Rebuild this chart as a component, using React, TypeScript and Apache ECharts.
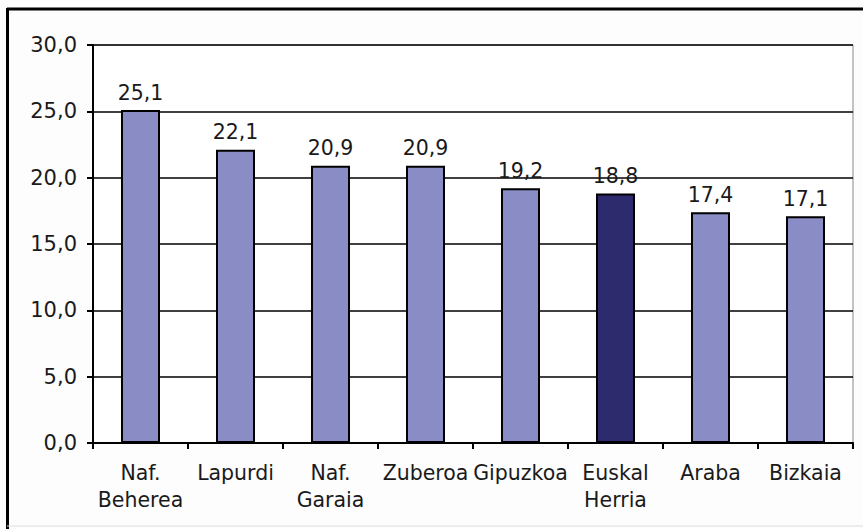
import React, { useEffect, useRef } from "react";
import * as echarts from "echarts";

const categories = ["Naf.\nBeherea", "Lapurdi", "Naf.\nGaraia", "Zuberoa", "Gipuzkoa", "Euskal\nHerria", "Araba", "Bizkaia"];
const values = [25.1, 22.1, 20.9, 20.9, 19.2, 18.8, 17.4, 17.1];
const highlighted = ["Euskal\nHerria"];
const yMin = 0;
const yMax = 30;
const yStep = 5;

const LIGHT = "#8a8dc5";
const DARK = "#2e2a6e";
const fmt = (v: number) => v.toFixed(1).replace(".", ",");

export default function App() {
  const ref = useRef<HTMLDivElement>(null);
  useEffect(() => {
    document.body.style.margin = "0";
    const chart = echarts.init(ref.current!, null, { renderer: "svg" });
    chart.setOption({
      animation: false,
      backgroundColor: "#fdfdfd",
      textStyle: { fontFamily: "DejaVu Sans" },
      grid: { left: 93, right: 10, top: 45, bottom: 86, show: true, backgroundColor: "#ffffff", borderColor: "#888888", borderWidth: 1 },
      graphic: [
        { type: "line", shape: { x1: 7, y1: 9, x2: 863, y2: 9 }, style: { stroke: "#000", lineWidth: 3 }, z: 10 },
        { type: "line", shape: { x1: 7.5, y1: 8, x2: 7.5, y2: 529 }, style: { stroke: "#000", lineWidth: 3 }, z: 10 },
        { type: "line", shape: { x1: 7, y1: 526, x2: 863, y2: 526 }, style: { stroke: "#dddddd", lineWidth: 1 }, z: 10 },
      ],
      xAxis: {
        type: "category",
        data: categories,
        axisLine: { show: true, lineStyle: { color: "#000", width: 2 } },
        axisTick: { show: true, length: 6, lineStyle: { color: "#000", width: 2 } },
        axisLabel: { color: "#1a1a1a", fontSize: 20.5, lineHeight: 27, margin: 16, interval: 0, fontFamily: "DejaVu Sans" },
      },
      yAxis: {
        type: "value",
        min: yMin,
        max: yMax,
        interval: yStep,
        axisLine: { show: true, lineStyle: { color: "#000", width: 2 } },
        axisTick: { show: true, length: 6, lineStyle: { color: "#000", width: 2 } },
        axisLabel: { color: "#1a1a1a", fontSize: 21, margin: 16, formatter: (v: number) => fmt(v), fontFamily: "DejaVu Sans" },
        splitLine: { show: true, lineStyle: { color: "#000", width: 1.5 } },
      },
      series: [
        {
          type: "bar",
          barWidth: 39,
          data: values.map((v, i) => ({
            value: v,
            itemStyle: { color: highlighted.includes(categories[i]) ? DARK : LIGHT },
          })),
          itemStyle: { borderColor: "#000", borderWidth: 2 },
          label: {
            show: true,
            position: "top",
            distance: 7,
            color: "#1a1a1a",
            fontSize: 20.5,
            fontFamily: "DejaVu Sans",
            formatter: (p: any) => fmt(p.value),
          },
        },
      ],
    });
    return () => chart.dispose();
  }, []);
  return <div ref={ref} style={{ width: 863, height: 529 }} />;
}
